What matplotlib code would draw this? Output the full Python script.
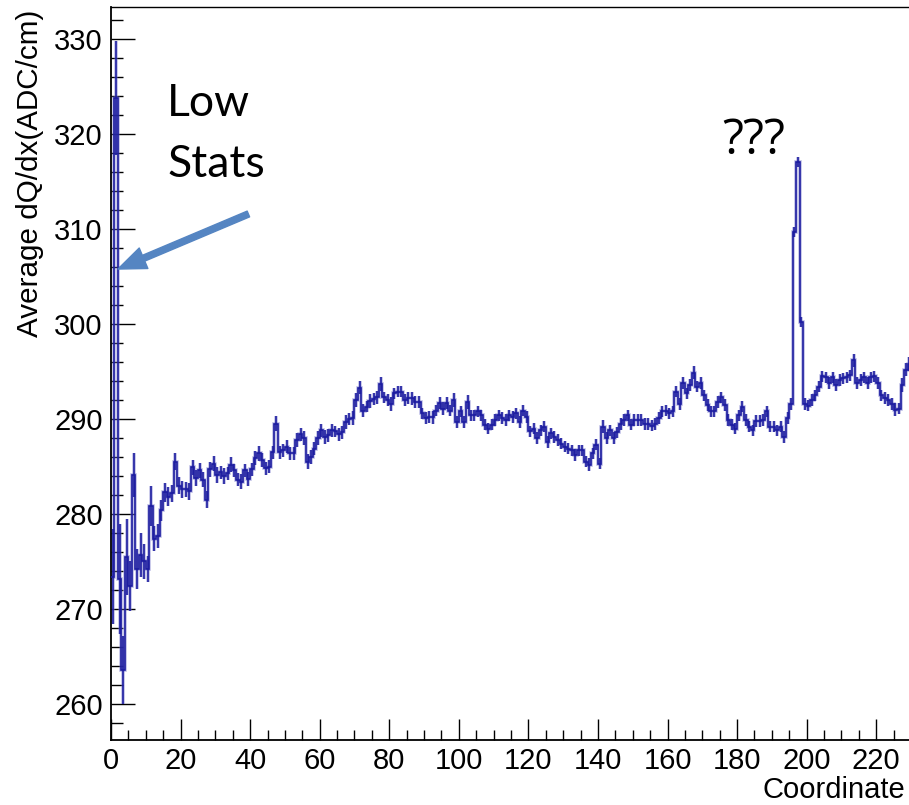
import matplotlib
matplotlib.use("Agg")
import matplotlib.pyplot as plt
from matplotlib.ticker import MultipleLocator, FixedLocator
import numpy as np

plt.rcParams["font.family"] = ["Liberation Sans", "DejaVu Sans"]

# Average dQ/dx per 1-unit coordinate bin, starting at coordinate 0
dqdx = [
    273.4, 323.8, 273.2, 263.6, 275.5, 272.4, 284.1, 274.2, 275.7, 275.0,
    274.2, 280.8, 277.4, 277.7, 280.4, 282.3, 281.8, 282.2, 285.5, 283.0,
    282.6, 282.6, 282.4, 284.9, 283.8, 284.6, 283.6, 281.5, 284.7, 285.3,
    284.1, 284.4, 284.0, 284.3, 285.2, 284.6, 283.6, 283.4, 284.6, 283.7,
    284.7, 285.9, 286.4, 285.7, 284.8, 285.0, 286.5, 289.5, 286.5, 286.7,
    287.1, 286.4, 286.4, 287.8, 288.4, 288.0, 285.5, 286.0, 286.9, 288.0,
    288.8, 288.1, 288.3, 288.8, 288.7, 288.4, 288.6, 289.7, 290.0, 290.1,
    292.0, 293.3, 290.9, 291.3, 291.9, 292.1, 292.3, 293.7, 292.3, 292.0,
    291.6, 292.7, 292.9, 292.9, 292.0, 292.2, 292.2, 291.8, 291.8, 290.6,
    290.1, 290.2, 290.2, 290.9, 291.7, 291.1, 291.7, 290.9, 292.0, 289.7,
    290.8, 289.7, 291.8, 290.4, 290.4, 290.8, 290.4, 289.4, 289.0, 289.4,
    289.9, 290.4, 290.1, 289.9, 290.4, 290.2, 290.6, 289.7, 290.9, 290.2,
    288.7, 289.0, 288.0, 288.8, 289.2, 287.6, 288.5, 288.1, 287.8, 287.4,
    287.1, 286.9, 286.7, 286.2, 286.7, 286.7, 285.5, 285.2, 286.4, 287.3,
    285.3, 289.2, 288.0, 288.8, 288.0, 288.6, 289.5, 289.9, 290.4, 289.4,
    289.9, 289.9, 289.9, 289.5, 289.5, 289.3, 289.5, 290.1, 290.8, 290.9,
    290.6, 290.8, 292.9, 291.6, 293.8, 292.7, 293.6, 294.9, 293.4, 293.8,
    292.5, 291.5, 290.8, 290.8, 291.8, 292.3, 291.5, 289.9, 289.4, 289.0,
    290.4, 291.3, 289.9, 289.2, 288.8, 289.8, 289.8, 289.9, 290.8, 289.2,
    289.2, 288.8, 289.2, 288.1, 290.1, 291.6, 309.7, 317.1, 300.2, 291.6,
    291.4, 292.0, 292.5, 293.4, 294.5, 294.4, 293.8, 294.4, 293.6, 294.1,
    294.3, 294.4, 294.6, 296.2, 293.8, 294.1, 294.4, 293.8, 294.4, 294.5,
    293.8, 292.5, 292.2, 292.0, 291.6, 291.0, 291.1, 293.6, 295.2, 295.8,
]

# Statistical uncertainty of each bin
dqdx_err = [
    5.0, 6.0, 5.8, 3.6, 4.0, 2.6, 2.3, 2.1, 2.3, 1.8,
    1.4, 2.1, 1.3, 1.3, 1.1, 1.0, 1.0, 0.9, 0.9, 0.9,
    0.9, 0.8, 0.9, 0.8, 0.8, 0.8, 0.8, 0.9, 0.8, 0.8,
    0.8, 0.7, 0.8, 0.7, 0.8, 0.7, 0.7, 0.8, 0.7, 0.7,
    0.7, 0.7, 0.8, 0.7, 0.7, 0.7, 0.7, 0.8, 0.7, 0.7,
    0.7, 0.7, 0.7, 0.7, 0.7, 0.7, 0.8, 0.7, 0.7, 0.7,
    0.7, 0.7, 0.7, 0.7, 0.6, 0.7, 0.7, 0.7, 0.6, 0.7,
    0.7, 0.7, 0.7, 0.6, 0.7, 0.6, 0.7, 0.7, 0.6, 0.6,
    0.7, 0.6, 0.6, 0.6, 0.6, 0.6, 0.7, 0.6, 0.6, 0.6,
    0.6, 0.6, 0.7, 0.6, 0.6, 0.7, 0.6, 0.6, 0.7, 0.6,
    0.6, 0.6, 0.7, 0.6, 0.6, 0.6, 0.6, 0.6, 0.6, 0.6,
    0.6, 0.6, 0.6, 0.6, 0.6, 0.6, 0.6, 0.6, 0.6, 0.6,
    0.6, 0.6, 0.6, 0.6, 0.6, 0.6, 0.6, 0.6, 0.6, 0.6,
    0.6, 0.6, 0.6, 0.6, 0.6, 0.6, 0.6, 0.7, 0.6, 0.6,
    0.6, 0.7, 0.6, 0.6, 0.6, 0.6, 0.6, 0.6, 0.6, 0.6,
    0.6, 0.6, 0.6, 0.6, 0.6, 0.6, 0.6, 0.6, 0.6, 0.6,
    0.6, 0.6, 0.6, 0.6, 0.6, 0.6, 0.6, 0.7, 0.6, 0.6,
    0.6, 0.6, 0.6, 0.6, 0.6, 0.6, 0.6, 0.6, 0.6, 0.6,
    0.6, 0.6, 0.6, 0.6, 0.6, 0.6, 0.6, 0.6, 0.6, 0.6,
    0.6, 0.6, 0.6, 0.6, 0.6, 0.6, 0.5, 0.5, 0.5, 0.6,
    0.6, 0.6, 0.6, 0.6, 0.6, 0.6, 0.6, 0.6, 0.6, 0.6,
    0.6, 0.6, 0.6, 0.7, 0.6, 0.6, 0.6, 0.6, 0.6, 0.6,
    0.6, 0.6, 0.6, 0.6, 0.6, 0.7, 0.6, 0.7, 0.7, 0.7,
]

bin_width = 1.0
x_range = (0, 230)
y_range = (256.2, 333.4)
x_major = [0, 20, 40, 60, 80, 100, 120, 140, 160, 180, 200, 220]
y_major = [260, 270, 280, 290, 300, 310, 320, 330]

x_title = "Coordinate"
y_title = "Average dQ/dx(ADC/cm)"

line_color = "#1c1ca0"
arrow_color = "#5585c2"

edges = np.arange(len(dqdx) + 1) * bin_width + x_range[0]
centers = 0.5 * (edges[:-1] + edges[1:])

W, H = 909, 805
fig = plt.figure(figsize=(W / 100, H / 100), dpi=100)
ax = fig.add_axes([111 / W, 65 / H, 800 / W, 733 / H])

# soft halo under the histogram outline
ax.stairs(dqdx, edges, baseline=None, color="#7070c8", lw=2.6, alpha=0.45, zorder=2)
ax.errorbar(centers, dqdx, yerr=dqdx_err, fmt="none", ecolor="#7070c8",
            elinewidth=2.6, alpha=0.45, capsize=0, zorder=2)
# histogram outline with error bars
ax.stairs(dqdx, edges, baseline=None, color=line_color, lw=1.2, zorder=3)
ax.errorbar(centers, dqdx, yerr=dqdx_err, fmt="none", ecolor=line_color,
            elinewidth=1.2, capsize=0, zorder=3)

ax.set_xlim(*x_range)
ax.set_ylim(*y_range)

ax.xaxis.set_major_locator(FixedLocator(x_major))
ax.xaxis.set_minor_locator(MultipleLocator(5))
ax.yaxis.set_major_locator(FixedLocator(y_major))
ax.yaxis.set_minor_locator(MultipleLocator(2))

ax.tick_params(which="both", direction="in", color="black", width=1.0,
               top=False, right=False, labelsize=21)
ax.tick_params(axis="y", which="major", length=17, pad=6)
ax.tick_params(axis="y", which="minor", length=8.5)
ax.tick_params(axis="x", which="major", length=15, pad=5)
ax.tick_params(axis="x", which="minor", length=7.5)

for side in ("left", "bottom"):
    ax.spines[side].set_linewidth(1.3)
ax.spines["top"].set_linewidth(1.0)
ax.spines["right"].set_visible(False)

fig.text(30 / W, 1 - 10 / H, y_title, rotation=90, ha="center", va="top",
         fontsize=21.3)
fig.text(905 / W, 1 - 798 / H, x_title, ha="right", va="baseline",
         fontsize=21)

# callouts
note_font = ["Lato", "DejaVu Sans"]
ax.text(16.2, 321.9, "Low", fontsize=32, family=note_font, ha="left", va="baseline")
ax.text(16.2, 315.5, "Stats", fontsize=32, family=note_font, ha="left", va="baseline")
ax.text(175.8, 317.9, "???", fontsize=35, family=["Open Sans", "DejaVu Sans"],
        ha="left", va="baseline")

ax.annotate("", xy=(2.0, 305.8), xytext=(39.5, 311.6),
            arrowprops=dict(arrowstyle="simple,head_length=2.0,head_width=1.6,tail_width=0.45",
                            color=arrow_color, shrinkA=0, shrinkB=0, mutation_scale=10),
            zorder=5)

fig.savefig("out.png", dpi=100)
